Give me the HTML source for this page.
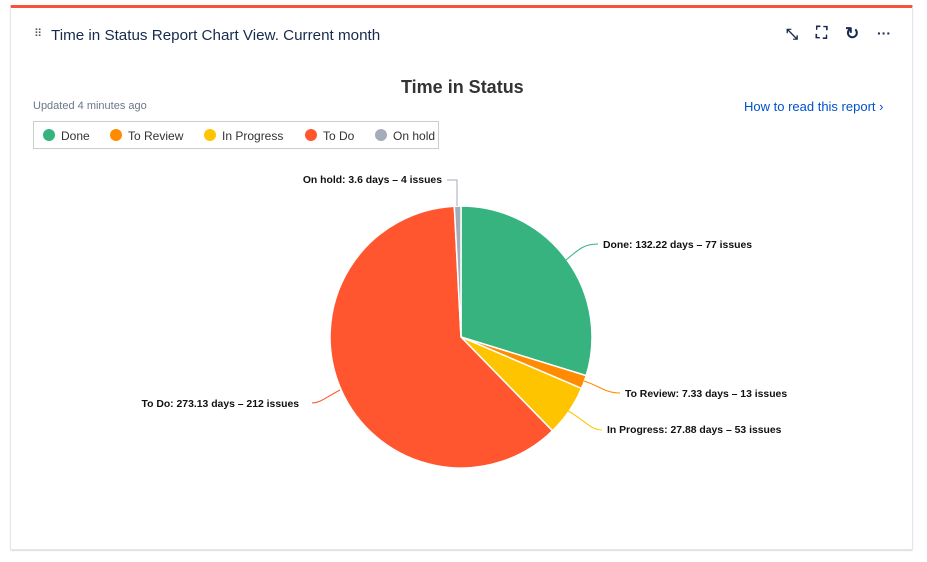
<!DOCTYPE html>
<html><head><style>
body{margin:0;width:927px;height:562px;background:#fff;font-family:"Liberation Sans",sans-serif;overflow:hidden;position:relative}
.card{position:absolute;left:10px;top:5px;width:903px;height:545px;border:1px solid #e4e6ea;border-top:3px solid #f4553a;box-sizing:border-box;border-radius:2px;box-shadow:0 1px 1px rgba(9,30,66,.15)}
.t{position:absolute;font-size:15px;color:#172b4d}
.leg{position:absolute;left:33px;top:121px;width:406px;height:28px;border:1px solid #ccc;box-sizing:border-box;font-size:12px;color:#333}
.leg span{position:absolute;top:7px}
.dot{position:absolute;top:7px;width:12px;height:12px;border-radius:50%}
</style></head><body>
<div class="card"></div>
<div class="t" style="left:34px;top:27px;font-size:11px;color:#555">⠿</div>
<div class="t" style="left:51px;top:27px;font-size:15.2px">Time in Status Report Chart View. Current month</div>
<div class="t" style="left:786px;top:26px;font-size:15px;font-weight:bold">⤡</div>
<div class="t" style="left:816px;top:25px;font-size:16px;font-weight:bold">⛶</div>
<div class="t" style="left:845px;top:24px;font-size:17px;font-weight:bold">↻</div>
<div class="t" style="left:877px;top:25px;font-size:14px;font-weight:bold">···</div>
<div class="t" style="left:401px;top:77px;font-size:18px;font-weight:bold;color:#333">Time in Status</div>
<div class="t" style="left:33px;top:100px;font-size:11px;color:#6b778c">Updated 4 minutes ago</div>
<div class="t" style="left:744px;top:99px;font-size:13px;color:#0052cc">How to read this report ›</div>
<div class="leg">
<div class="dot" style="left:9px;background:#36b37e"></div><span style="left:27px">Done</span>
<div class="dot" style="left:76px;background:#ff8b00"></div><span style="left:94px">To Review</span>
<div class="dot" style="left:170px;background:#ffc400"></div><span style="left:188px">In Progress</span>
<div class="dot" style="left:271px;background:#ff5630"></div><span style="left:289px">To Do</span>
<div class="dot" style="left:341px;background:#a5adba"></div><span style="left:359px">On hold</span>
</div>
<svg width="927" height="562" style="position:absolute;left:0;top:0" font-family="Liberation Sans" font-size="10.4" font-weight="bold">
<g stroke="#fff" stroke-width="1.5">
<path d="M461,337 L461,206 A131,131 0 0 1 586.2,375.6Z" fill="#36b37e"/>
<path d="M461,337 L586.2,375.6 A131,131 0 0 1 581.5,388.4Z" fill="#ff8b00"/>
<path d="M461,337 L581.5,388.4 A131,131 0 0 1 552.5,430.8Z" fill="#ffc400"/>
<path d="M461,337 L552.5,430.8 A131,131 0 1 1 454.3,206.2Z" fill="#ff5630"/>
<path d="M461,337 L454.3,206.2 A131,131 0 0 1 461,206Z" fill="#a5adba"/>
</g>
<g fill="none" stroke-width="1">
<path d="M566,260 C580,248 585,244 598,244" stroke="#36b37e"/>
<path d="M584,381 C600,386 605,393 620,393" stroke="#ff8b00"/>
<path d="M568,411 C585,420 590,430 602,430" stroke="#ffc400"/>
<path d="M340,390 C325,398 320,403 312,403" stroke="#ff5630"/>
<path d="M457,206 L457,180 L447,180" stroke="#a5adba"/>
</g>
<g fill="#111">
<text x="603" y="248">Done: 132.22 days – 77 issues</text>
<text x="625" y="397">To Review: 7.33 days – 13 issues</text>
<text x="607" y="433">In Progress: 27.88 days – 53 issues</text>
<text x="299" y="407" text-anchor="end">To Do: 273.13 days – 212 issues</text>
<text x="442" y="183" text-anchor="end">On hold: 3.6 days – 4 issues</text>
</g>
</svg>
</body></html>
